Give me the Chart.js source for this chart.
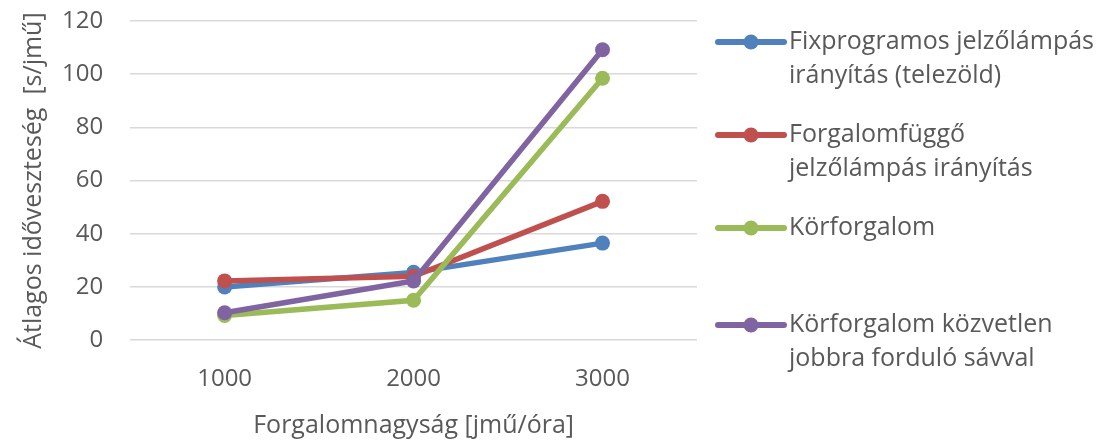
<!DOCTYPE html>
<html>
<head>
<meta charset="utf-8">
<script src="https://cdn.jsdelivr.net/npm/chart.js@4"></script>
<style>
  html, body { margin: 0; padding: 0; background: #fff; }
  #wrap { width: 1107px; height: 444px; }
</style>
</head>
<body>
<div id="wrap"><canvas id="graph"></canvas></div>
<script>
// kategóriák
const forgalom = ['1000', '2000', '3000'];

// sorozatok [s/jmű]
const fixprogram = [20, 25.5, 36.5];
const forgalomfuggo = [22.3, 24, 52.2];
const korforgalom = [9.3, 15, 98.5];
const korforgalomJobbra = [10.3, 22.3, 109.2];

// jelmagyarázat szövegek (sorokra tördelve)
const nevek = [
    ['Fixprogramos jelzőlámpás', 'irányítás (telezöld)'],
    ['Forgalomfüggő', 'jelzőlámpás irányítás'],
    ['Körforgalom'],
    ['Körforgalom közvetlen', 'jobbra forduló sávval']
];
const yTicks = [0, 20, 40, 60, 80, 100, 120];

const FONT = "'Open Sans', sans-serif";
const GREY = '#595959';

function sorozat(idx, data, color, order) {
    return {
        label: nevek[idx].join(' '),
        data: data,
        borderColor: color,
        backgroundColor: color,
        borderWidth: 5.5,
        pointRadius: 7.5,
        pointHoverRadius: 7.5,
        pointBorderWidth: 0,
        tension: 0,
        order: order
    };
}

// saját jelmagyarázat: vonal + kör, többsoros szöveg
const legendPlugin = {
    id: 'sajatLegend',
    afterDraw(chart) {
        const ctx = chart.ctx;
        const slotY = [42, 135, 228, 325];
        const x0 = 718, x1 = 784, tx = 789, lh = 34;
        ctx.save();
        ctx.font = '25px ' + FONT;
        ctx.textBaseline = 'middle';
        ctx.textAlign = 'left';
        chart.data.datasets.forEach((ds, i) => {
            const y = slotY[i];
            ctx.strokeStyle = ds.borderColor;
            ctx.lineWidth = 6;
            ctx.lineCap = 'round';
            ctx.beginPath();
            ctx.moveTo(x0, y);
            ctx.lineTo(x1, y);
            ctx.stroke();
            ctx.fillStyle = ds.borderColor;
            ctx.beginPath();
            ctx.arc((x0 + x1) / 2, y, 7.5, 0, Math.PI * 2);
            ctx.fill();
            ctx.fillStyle = GREY;
            nevek[i].forEach((sor, k) => ctx.fillText(sor, tx, y + k * lh));
        });
        ctx.restore();
    }
};

const BPMChart = new Chart(document.getElementById('graph'), {
    type: 'line',
    data: {
        labels: forgalom,
        datasets: [
            sorozat(0, fixprogram, '#4f81bd', 4),
            sorozat(1, forgalomfuggo, '#c0504d', 3),
            sorozat(2, korforgalom, '#9bbb59', 2),
            sorozat(3, korforgalomJobbra, '#8064a2', 1)
        ]
    },
    options: {
        responsive: true,
        maintainAspectRatio: false,
        animation: false,
        layout: { padding: { top: 21, right: 410, bottom: 3, left: 19 } },
        plugins: {
            legend: { display: false },
            tooltip: { enabled: false }
        },
        scales: {
            x: {
                offset: true,
                grid: { display: false },
                border: { display: false },
                ticks: { color: GREY, font: { family: FONT, size: 24 }, padding: 17 },
                title: {
                    display: true,
                    text: 'Forgalomnagyság [jmű/óra]',
                    color: GREY,
                    font: { family: FONT, size: 25 },
                    padding: { top: 0, bottom: 0 }
                }
            },
            y: {
                min: 0,
                max: 120,
                afterBuildTicks: axis => { axis.ticks = yTicks.map(v => ({ value: v })); },
                afterFit: axis => {
                    axis.width -= 18;
                    axis.paddingTop = 0;
                    axis.paddingBottom = 0;
                },
                grid: { color: '#d9d9d9', lineWidth: 1.5, drawTicks: false },
                border: { display: false },
                ticks: { color: GREY, font: { family: FONT, size: 24 }, padding: 27 },
                title: {
                    display: true,
                    text: 'Átlagos időveszteség  [s/jmű]',
                    color: GREY,
                    font: { family: FONT, size: 25 },
                    padding: { top: 0, bottom: 4 }
                }
            }
        }
    },
    plugins: [legendPlugin]
});
</script>
</body>
</html>
